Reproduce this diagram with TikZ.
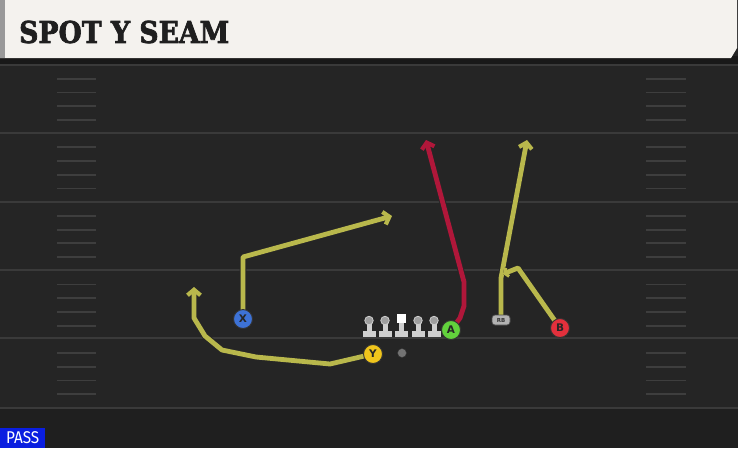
\documentclass[tikz,border=0pt]{standalone}
\usepackage{fontspec}
\usetikzlibrary{arrows.meta}
\newfontfamily\titlefont[FakeBold=2.5]{DejaVu Serif Bold}
\newfontfamily\labelfont{DejaVu Sans}
\newfontfamily\passfont{Fira Sans}
\definecolor{fieldbg}{HTML}{252525}
\definecolor{bottombg}{HTML}{1F1F1F}
\definecolor{yardline}{HTML}{3A3A3A}
\definecolor{hashc}{HTML}{3E3E3E}
\definecolor{headbg}{HTML}{F4F2EE}
\definecolor{routey}{HTML}{B9B84C}
\definecolor{router}{HTML}{B0173A}
\definecolor{px}{HTML}{3D72D6}
\definecolor{py}{HTML}{F0C51C}
\definecolor{pa}{HTML}{62D13C}
\definecolor{pb}{HTML}{E2303C}
\definecolor{passblue}{HTML}{0A1EE0}
\definecolor{olc}{HTML}{CFCFCF}
\tikzset{
  yline/.style={draw=yardline, line width=2pt},
  hashmark/.style={draw=hashc, line width=1.8pt},
  player/.style={circle, draw=black!80, line width=0.9pt, minimum size=19pt, inner sep=0pt, font=\labelfont\bfseries\fontsize{10.5}{11}\selectfont, text=black!85},
  routebase/.style={line width=4.8pt, line join=round, line cap=butt,
     preaction={draw=black!85, line width=6.8pt, line join=round}},
  yroute/.style={routebase, draw=routey},
  rroute/.style={routebase, draw=router},
  tip/.style={-{Straight Barb[length=5.5pt,width=13pt,line width=4.2pt]}},
  smalltip/.style={-{Straight Barb[length=3pt,width=9pt,line width=3pt]}},
  lman/.style={fill=olc, draw=none},
}
\begin{document}
\begin{tikzpicture}[x=1pt,y=-1pt]
\useasboundingbox (0,0) rectangle (738,448);
% backgrounds
\fill[fieldbg] (0,0) rectangle (738,408);
\fill[bottombg] (0,408) rectangle (738,448);
\fill[black!90] (0,56) rectangle (738,64);
% header
\fill[headbg] (0,0) -- (737,0) -- (737,48) -- (731,58) -- (0,58) -- cycle;
\fill[black!40] (0,0) rectangle (5,58);
\node[anchor=west, font=\titlefont\fontsize{30}{32}\selectfont, text=black!88, inner sep=0pt] (title) at (19,32) {\scalebox{0.89}[1]{SPOT Y SEAM}};
% yard lines
\foreach \yy in {65,133,202,270,338,408} {
  \draw[yline] (0,\yy) -- (738,\yy);
}
% hash marks
\foreach \base in {65,133.6,202.2,270.8,339.4} {
  \foreach \k in {1,2,3,4} {
    \pgfmathsetmacro{\hy}{\base+\k*13.72}
    \draw[hashmark] (57,\hy) -- (96,\hy);
    \draw[hashmark] (646,\hy) -- (686,\hy);
  }
}
% PASS label
\node[fill=passblue, text=white, anchor=south west, inner sep=0pt, minimum width=45pt, minimum height=20pt, font=\passfont\fontsize{17}{17}\selectfont] (pass) at (0,448) {\scalebox{0.9}[1]{PASS}};
% route end coordinates
\coordinate (xc) at (243,257);
\coordinate (xe) at (392,216);
\coordinate (ye1) at (330,364);
\coordinate (ye2) at (256,357);
\coordinate (ye3) at (222,350);
\coordinate (ye4) at (205,336);
\coordinate (ye5) at (194,318);
\coordinate (yend) at (194,287);
\coordinate (ac0) at (460,318);
\coordinate (ac1) at (464,306);
\coordinate (ac2) at (464,282);
\coordinate (aend) at (426,140);
\coordinate (rbc) at (501,278);
\coordinate (rbend) at (527,140);
\coordinate (bc) at (518,268);
\coordinate (bend) at (503,274);
% player positions
\coordinate (xp) at (243,319);
\coordinate (yp) at (373,354);
\coordinate (ap) at (451,330);
\coordinate (bp) at (560,328);
\coordinate (rbp) at (501,320);
% routes
\draw[yroute, tip] (xp) -- (xc) -- (xe);
\draw[yroute, tip] (yp) -- (ye1) -- (ye2) -- (ye3) -- (ye4) -- (ye5) -- (yend);
\draw[rroute, tip] (ap) -- (ac0) -- (ac1) -- (ac2) -- (aend);
\draw[yroute, tip] (rbp) -- (rbc) -- (rbend);
\draw[yroute, smalltip] (bp) -- (bc) -- (bend);
% linemen
\foreach \lx/\nm in {369/l1,385/l2,418/l4,434/l5} {
  \fill[lman] (\lx-6.5,331) rectangle (\lx+6.5,336.5);
  \fill[lman] (\lx-2.5,321) rectangle (\lx+2.5,331);
  \node[circle, fill=black!38, draw=olc, line width=0.8pt, minimum size=8.5pt, inner sep=0pt] (\nm) at (\lx,320.5) {};
}
\fill[lman] (401-6.5,331) rectangle (401+6.5,336.5);
\fill[lman] (401-2.5,321) rectangle (401+2.5,331);
\node[fill=white, minimum size=9pt, inner sep=0pt] (center) at (401,318) {};
% ball
\node[circle, fill=black!55, draw=black!80, minimum size=9pt, inner sep=0pt] (ball) at (402,353) {};
% players
\node[player, fill=px] (X) at (xp) {X};
\node[player, fill=py] (Y) at (yp) {Y};
\node[player, fill=pa] (A) at (ap) {A};
\node[player, fill=pb] (B) at (bp) {B};
\node[fill=black!30, draw=black!70, rounded corners=3pt, line width=0.7pt, minimum width=18pt, minimum height=10pt, inner sep=0pt, font=\labelfont\bfseries\fontsize{5.5}{6}\selectfont, text=black!80] (RB) at (rbp) {RB};
\end{tikzpicture}
\end{document}
